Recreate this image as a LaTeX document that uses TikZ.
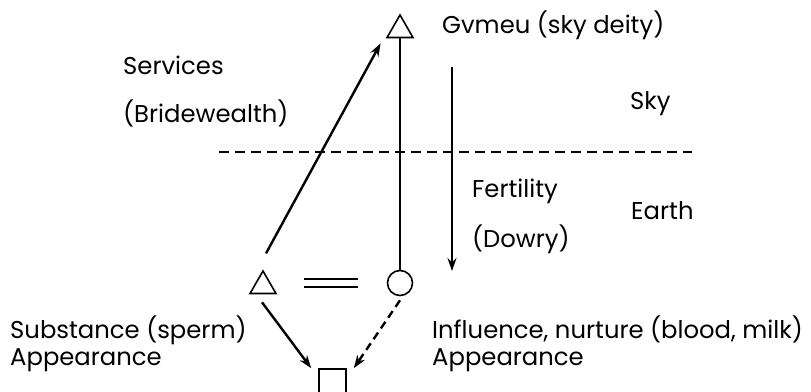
\documentclass[tikz,border=0pt]{standalone}
\usepackage{fontspec}
\setmainfont{Poppins}
\usetikzlibrary{shapes.geometric,arrows.meta}
\tikzset{
  lbl/.style={anchor=base west,inner sep=0pt,font=\fontsize{24.3}{28}\selectfont},
  tri/.style={draw,regular polygon,regular polygon sides=3,minimum size=30pt,inner sep=0pt,line width=1.6pt},
  thin/.style={line width=1.6pt},
  thick arrow/.style={line width=2.4pt,-{Stealth[length=13pt,width=9pt]}},
  divider/.style={line width=2.4pt,dash pattern=on 10pt off 6pt}
}
\begin{document}
\begin{tikzpicture}[x=1pt,y=-1pt]
\useasboundingbox[fill=white] (0,0) rectangle (811,391);
% kinship symbols
\node[tri] (gv) at (400,30) {};
\node[tri] (h) at (263,286) {};
\node[draw,circle,minimum size=25pt,inner sep=0pt,line width=1.6pt] (w) at (400,283) {};
\node[draw,rectangle,minimum size=27pt,inner sep=0pt,line width=1.6pt] (c) at (332.5,382.5) {};
% equals sign
\coordinate (e1) at (304,279);
\coordinate (e2) at (358,279);
\coordinate (e3) at (304,287);
\coordinate (e4) at (358,287);
\draw[thin] (e1) -- (e2);
\draw[thin] (e3) -- (e4);
% descent line
\draw[thin] (gv.side 2) -- (w.north);
% sky/earth divider
\coordinate (dl) at (219,152);
\coordinate (dr) at (692,152);
\draw[divider] (dl) -- (dr);
% fertility arrow
\coordinate (f1) at (452,67);
\coordinate (f2) at (452,271);
\draw[thick arrow] (f1) -- (f2);
% services arrow
\draw[thick arrow] ([xshift=3pt,yshift=16pt]h.corner 1) -- ([xshift=-5pt,yshift=-5pt]gv.corner 2);
% to child
\draw[thick arrow] ([xshift=-1pt,yshift=-8pt]h.side 2) -- ([xshift=-7pt]c.north west);
\draw[thick arrow,dash pattern=on 8pt off 5pt] ([yshift=-4pt]w.south) -- ([xshift=7pt]c.north east);
% labels
\node[lbl] (t1) at (442,33) {Gvmeu (sky deity)};
\node[lbl] (t2) at (123,74) {Services};
\node[lbl] (t3) at (123,122) {(Bridewealth)};
\node[lbl] (t4) at (630,109) {Sky};
\node[lbl] (t5) at (472,197) {Fertility};
\node[lbl] (t6) at (631,219) {Earth};
\node[lbl] (t7) at (472,247) {(Dowry)};
\node[lbl] (t8) at (10,338) {Substance (sperm)};
\node[lbl] (t9) at (10,365) {Appearance};
\node[lbl] (t10) at (432,338) {Influence, nurture (blood, milk)};
\node[lbl] (t11) at (432,365) {Appearance};
\end{tikzpicture}
\end{document}
